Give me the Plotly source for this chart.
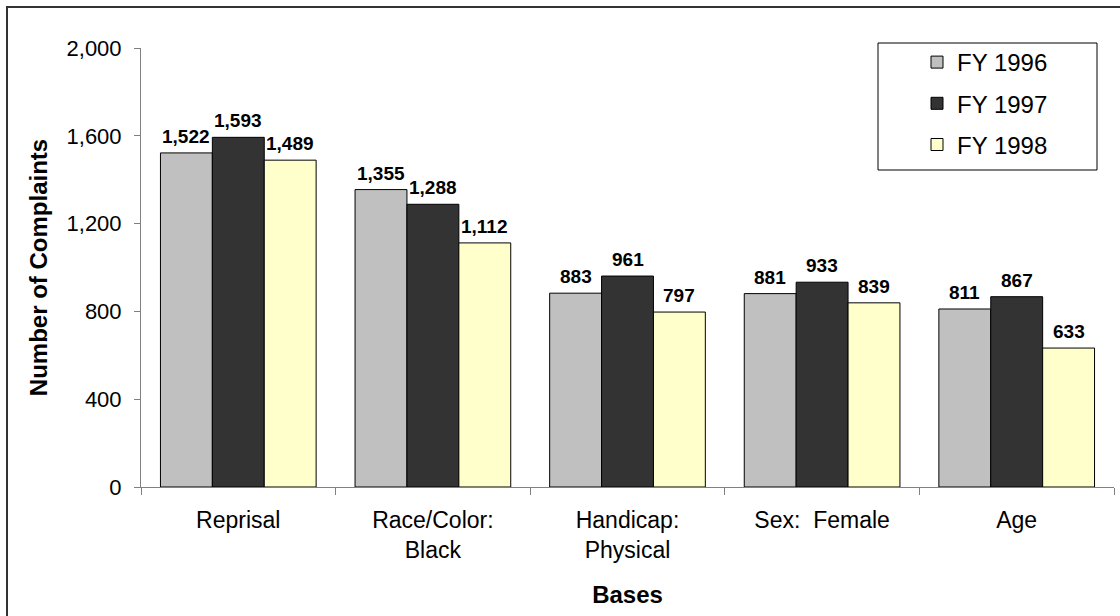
import plotly.graph_objects as go

categories = ["Reprisal", "Race/Color:<br>Black", "Handicap:<br>Physical", "Sex:\u00a0 Female", "Age"]
fy1996 = [1522, 1355, 883, 881, 811]
fy1997 = [1593, 1288, 961, 933, 867]
fy1998 = [1489, 1112, 797, 839, 633]
series_names = ["FY 1996", "FY 1997", "FY 1998"]
series_colors = ["#C0C0C0", "#333333", "#FFFFCC"]
y_ticks = [0, 400, 800, 1200, 1600, 2000]

W, H = 1120, 616
L, R, T, B = 141, 1114, 48, 487
pw, ph = R - L, B - T
BARGAP = 0.2

def px(x):
    return (x - L) / pw

def py(y):
    return (B - y) / ph

FONT = "Arial, Liberation Sans, sans-serif"

fig = go.Figure()
all_series = [fy1996, fy1997, fy1998]
for name, vals, col in zip(series_names, all_series, series_colors):
    fig.add_trace(go.Bar(
        x=categories, y=vals, name=name, legendgroup=name,
        marker=dict(color=col, line=dict(color="#000000", width=1)),
    ))

# data labels, positioned via the library's axes (category + value)
bar_px = pw / len(categories) * (1 - BARGAP) / len(all_series)
annotations = []
for si, vals in enumerate(all_series):
    for cat, v in zip(categories, vals):
        annotations.append(dict(
            x=cat, y=v, xref="x", yref="y", text=f"<b>{v:,}</b>",
            showarrow=False, yanchor="bottom", xanchor="center",
            xshift=(si - (len(all_series) - 1) / 2) * bar_px, yshift=4,
            font=dict(family=FONT, size=19, color="#000000"),
        ))

fig.update_layout(
    width=W, height=H,
    margin=dict(l=L, r=W - R, t=T, b=H - B, pad=0),
    paper_bgcolor="white", plot_bgcolor="white",
    barmode="group", bargap=BARGAP, bargroupgap=0,
    font=dict(family=FONT, size=22, color="#000000"),
    showlegend=True,
    legend=dict(
        x=px(917), y=py(40), xanchor="left", yanchor="top",
        bgcolor="rgba(0,0,0,0)", borderwidth=0,
        font=dict(family=FONT, size=24, color="#000000"),
        tracegroupgap=7, traceorder="grouped",
    ),
    xaxis=dict(
        showline=True, linecolor="#808080", linewidth=1,
        ticks="outside", tickson="boundaries", ticklen=7, tickcolor="#808080",
        tickfont=dict(family=FONT, size=23, color="#000000"),
        ticklabelstandoff=12,
        title=dict(text="<b>Bases</b>", font=dict(family=FONT, size=24, color="#000000"), standoff=24),
        showgrid=False, zeroline=False,
    ),
    yaxis=dict(
        range=[0, 2000], tickvals=y_ticks, tickformat=",d",
        showline=True, linecolor="#808080", linewidth=1,
        ticks="outside", ticklen=6, tickcolor="#808080",
        tickfont=dict(family=FONT, size=22, color="#000000"),
        ticklabelstandoff=8,
        title=dict(text="<b>Number of Complaints</b>", font=dict(family=FONT, size=24, color="#000000"), standoff=12),
        showgrid=False, zeroline=False,
    ),
    annotations=annotations,
    shapes=[
        dict(type="rect", xref="paper", yref="paper",
             x0=px(7), x1=px(1130), y0=py(630), y1=py(7),
             line=dict(color="#333333", width=2), fillcolor="rgba(0,0,0,0)", layer="below"),
        dict(type="rect", xref="paper", yref="paper",
             x0=px(878), x1=px(1097), y0=py(170), y1=py(43),
             line=dict(color="#000000", width=1), fillcolor="white", layer="below"),
    ],
)

fig.write_html("out.html")
